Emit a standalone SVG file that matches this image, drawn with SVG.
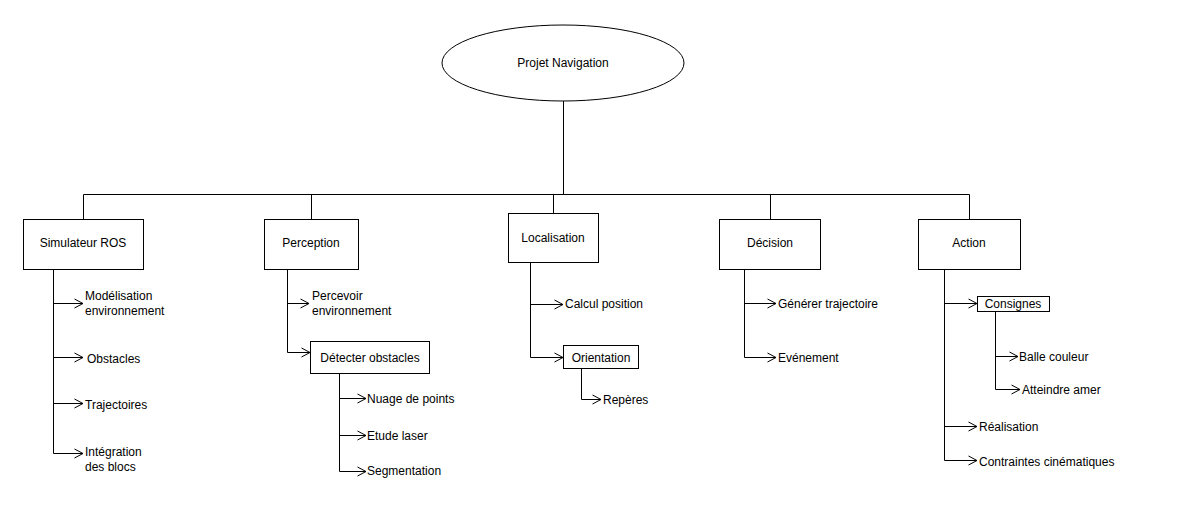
<svg xmlns="http://www.w3.org/2000/svg" width="1187" height="516" viewBox="0 0 1187 516">
<style>
  text { font-family: "Liberation Sans", Arial, sans-serif; font-size: 12px; fill: #000; }
  .c { text-anchor: middle; }
  .box { fill: #fff; stroke: #000; stroke-width: 1; }
  .ln { fill: none; stroke: #000; stroke-width: 1; }
  .ar { fill: none; stroke: #000; stroke-width: 1; marker-end: url(#arr); }
</style>
<defs>
  <marker id="arr" markerUnits="userSpaceOnUse" markerWidth="12" markerHeight="12" refX="9" refY="5" orient="auto" overflow="visible">
    <path d="M0.5,0.5 L9,5 L0.5,9.5" fill="none" stroke="#000" stroke-width="1"/>
  </marker>
</defs>
<rect width="1187" height="516" fill="#fff"/>
<g id="connectors">
  <path class="ln" d="M563.5,101 V194.5 M83.5,194.5 H969.5 M83.5,194.5 V219 M311.5,194.5 V219 M553.5,194.5 V213 M770.5,194.5 V219 M969.5,194.5 V219"/>
  <path class="ln" d="M53.5,269 V453.5"/>
  <path class="ar" d="M53.5,303.5 H83"/>
  <path class="ar" d="M53.5,357.5 H83"/>
  <path class="ar" d="M53.5,403.5 H83"/>
  <path class="ar" d="M53.5,453.5 H83"/>
  <path class="ln" d="M287.5,269 V352.5"/>
  <path class="ar" d="M287.5,303.5 H309"/>
  <path class="ar" d="M287.5,352.5 H310"/>
  <path class="ln" d="M339.5,373 V471.5"/>
  <path class="ar" d="M339.5,398.5 H366"/>
  <path class="ar" d="M339.5,435.5 H366"/>
  <path class="ar" d="M339.5,471.5 H366"/>
  <path class="ln" d="M530.5,263 V357.5"/>
  <path class="ar" d="M530.5,304.5 H563"/>
  <path class="ar" d="M530.5,357.5 H563"/>
  <path class="ln" d="M581.5,368 V399.5"/>
  <path class="ar" d="M581.5,399.5 H601"/>
  <path class="ln" d="M744.5,269 V357.5"/>
  <path class="ar" d="M744.5,303.5 H776"/>
  <path class="ar" d="M744.5,357.5 H776"/>
  <path class="ln" d="M944.5,269 V460.5"/>
  <path class="ar" d="M944.5,303.5 H977"/>
  <path class="ar" d="M944.5,426.5 H977"/>
  <path class="ar" d="M944.5,460.5 H977"/>
  <path class="ln" d="M995.5,312 V389.5"/>
  <path class="ar" d="M995.5,356.5 H1018"/>
  <path class="ar" d="M995.5,389.5 H1020"/>
</g>
<g id="root">
  <ellipse class="box" cx="563" cy="63" rx="121" ry="38"/>
  <text class="c" x="563" y="67">Projet Navigation</text>
</g>
<g id="simulateur">
  <rect class="box" x="23.5" y="219.5" width="120" height="50"/>
  <text class="c" x="83" y="247">Simulateur ROS</text>
</g>
<g id="perception">
  <rect class="box" x="264.5" y="219.5" width="94" height="50"/>
  <text class="c" x="311" y="247">Perception</text>
</g>
<g id="localisation">
  <rect class="box" x="508.5" y="213.5" width="90" height="49"/>
  <text class="c" x="553" y="242">Localisation</text>
</g>
<g id="decision">
  <rect class="box" x="719.5" y="219.5" width="101" height="50"/>
  <text class="c" x="770" y="247">Décision</text>
</g>
<g id="action">
  <rect class="box" x="918.5" y="219.5" width="102" height="50"/>
  <text class="c" x="969" y="247">Action</text>
</g>
<g id="detecter">
  <rect class="box" x="310.5" y="341.5" width="119" height="32"/>
  <text class="c" x="370" y="362">Détecter obstacles</text>
</g>
<g id="orientation">
  <rect class="box" x="563.5" y="345.5" width="75" height="23"/>
  <text class="c" x="601" y="362">Orientation</text>
</g>
<g id="consignes">
  <rect class="box" x="977.5" y="296.5" width="72" height="15"/>
  <text class="c" x="1013" y="308">Consignes</text>
</g>
<g id="modelisation"><text x="85" y="300">Modélisation</text><text x="85" y="315">environnement</text></g>
<g id="obstacles"><text x="87" y="363">Obstacles</text></g>
<g id="trajectoires"><text x="85" y="409">Trajectoires</text></g>
<g id="integration"><text x="85" y="456">Intégration</text><text x="85" y="471">des blocs</text></g>
<g id="percevoir"><text x="312" y="300">Percevoir</text><text x="312" y="315">environnement</text></g>
<g id="nuage"><text x="367" y="403">Nuage de points</text></g>
<g id="etude"><text x="367" y="440">Etude laser</text></g>
<g id="segmentation"><text x="367" y="475">Segmentation</text></g>
<g id="calcul"><text x="565" y="308">Calcul position</text></g>
<g id="reperes"><text x="603" y="404">Repères</text></g>
<g id="generer"><text x="778" y="308">Générer trajectoire</text></g>
<g id="evenement"><text x="778" y="362">Evénement</text></g>
<g id="balle"><text x="1019" y="361">Balle couleur</text></g>
<g id="atteindre"><text x="1022" y="394">Atteindre amer</text></g>
<g id="realisation"><text x="979" y="431">Réalisation</text></g>
<g id="contraintes"><text x="979" y="466">Contraintes cinématiques</text></g>
</svg>
